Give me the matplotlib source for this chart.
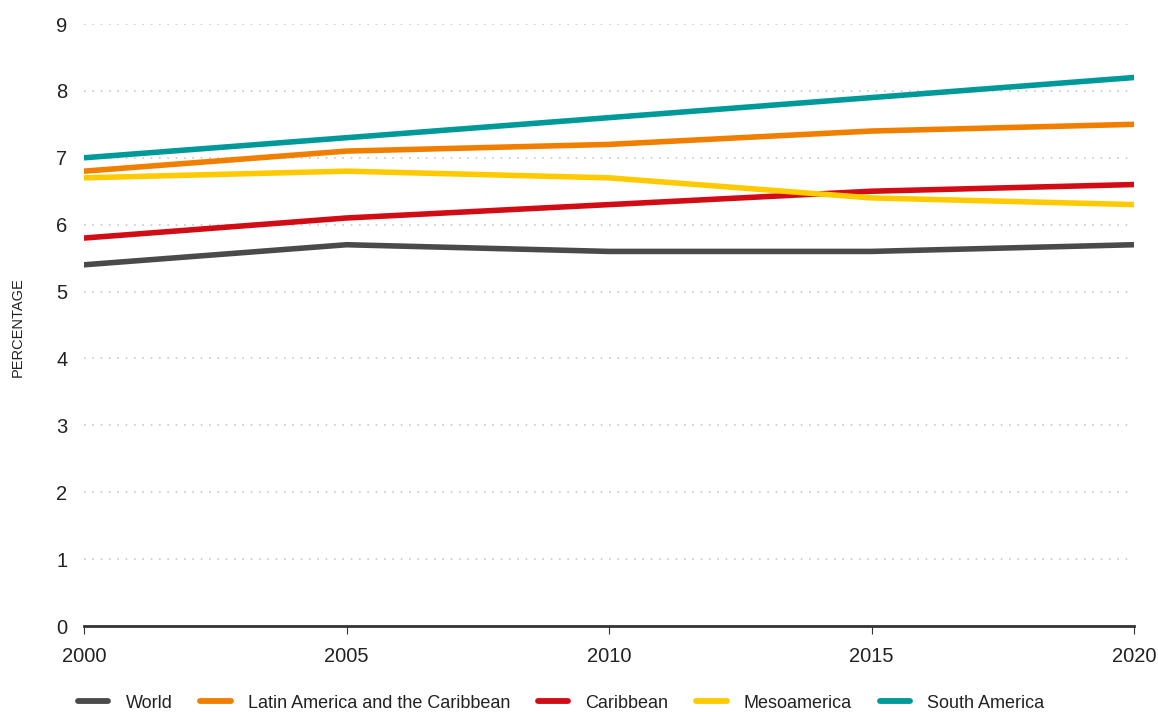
import matplotlib
matplotlib.use("Agg")
import matplotlib.pyplot as plt
import numpy as np

# Data
years = [2000, 2005, 2010, 2015, 2020]
world = [5.4, 5.7, 5.6, 5.6, 5.7]
lac = [6.8, 7.1, 7.2, 7.4, 7.5]
caribbean = [5.8, 6.1, 6.3, 6.5, 6.6]
mesoamerica = [6.7, 6.8, 6.7, 6.4, 6.3]
south_america = [7.0, 7.3, 7.6, 7.9, 8.2]

series = [
    ("World", world, "#4a4a4a"),
    ("Latin America and the Caribbean", lac, "#f07f00"),
    ("Caribbean", caribbean, "#d20c14"),
    ("Mesoamerica", mesoamerica, "#ffcb00"),
    ("South America", south_america, "#00999a"),
]

font = ["Liberation Sans", "DejaVu Sans"]
plt.rcParams["font.family"] = font

fig = plt.figure(figsize=(11.58, 7.12), dpi=100)
ax = fig.add_axes([84 / 1158, 86 / 712, 1050 / 1158, 602 / 712])

for name, vals, col in series:
    ax.plot(years, vals, color=col, lw=4, solid_capstyle="round",
            label=name, zorder=3)

ax.set_xlim(2000, 2020)
ax.set_ylim(0, 9)
ax.set_xticks(years)
ax.set_yticks(range(0, 10))
ax.yaxis.grid(True, linestyle=(0, (1, 4)), color="#c8c8c8", lw=1.2)
for s in ["top", "right", "left"]:
    ax.spines[s].set_visible(False)
ax.spines["bottom"].set_linewidth(2)
ax.spines["bottom"].set_color("#333333")
ax.tick_params(axis="y", length=0, pad=12, labelsize=14.5, labelcolor="#222222")
ax.tick_params(axis="x", length=6, width=0.8, color="#333333", pad=9,
               labelsize=14.5, labelcolor="#222222")

fig.text(18 / 1158, 1 - 327 / 712, "PERCENTAGE", rotation=90, fontsize=10.5,
         color="#222222", ha="center", va="center")

leg = fig.legend(loc="center left", bbox_to_anchor=(71 / 1158, 1 - 703 / 712), ncol=5,
                 frameon=False, fontsize=13, handlelength=1.67, handletextpad=0.95,
                 columnspacing=1.55, borderaxespad=0)
for t in leg.get_texts():
    t.set_color("#222222")
for h in leg.get_lines():
    h.set_linewidth(4.2)

fig.savefig("out.png", dpi=100)
